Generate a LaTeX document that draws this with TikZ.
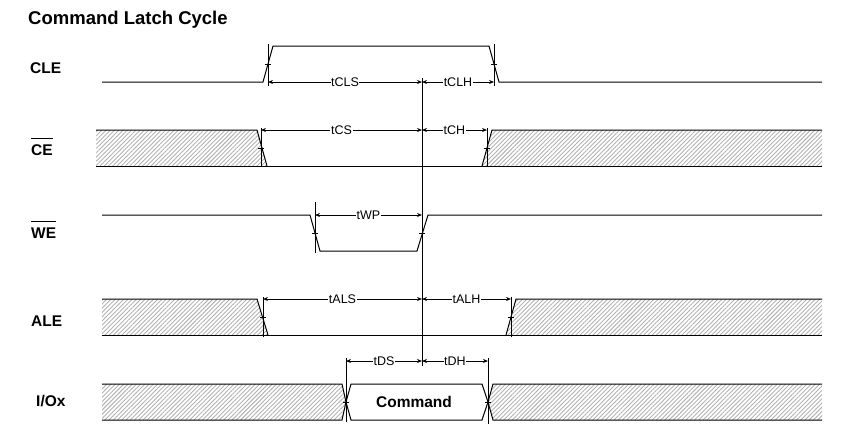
\documentclass[tikz,border=0pt]{standalone}
\usepackage{fontspec}
\setmainfont{Liberation Sans}
\usetikzlibrary{arrows.meta,patterns.meta}
\begin{document}
\begin{tikzpicture}[x=1pt,y=-1pt,
	sig/.style={line width=1pt},
	tickline/.style={line width=0.8pt},
	hatch/.style={pattern={Lines[angle=45,distance=3pt,line width=0.9pt]},pattern color=gray!60},
	dim/.style={line width=0.8pt,{Stealth[length=5pt,width=4pt]}-{Stealth[length=5pt,width=4pt]}},
	tlbl/.style={fill=white,inner sep=0.6pt,font=\fontsize{12.5}{14}\selectfont},
	sname/.style={anchor=west,inner sep=0pt,font=\bfseries\fontsize{15.5}{18}\selectfont}]
	\useasboundingbox (0,0) rectangle (849,440);
	\node[anchor=west,inner sep=0pt,font=\bfseries\fontsize{18.5}{22}\selectfont] (title) at (28,20) {Command Latch Cycle};
	% signal names
	\node[sname] (cle) at (30,68) {CLE};
	\node[sname] (ce) at (31,150) {CE};
	\node[sname] (we) at (31,233) {WE};
	\node[sname] (ale) at (31,321) {ALE};
	\node[sname] (io) at (36,401) {I/Ox};
	\draw[sig] ([yshift=6pt]ce.north west)--([yshift=6pt]ce.north east);
	\draw[sig] ([yshift=6pt]we.north west)--([yshift=6pt]we.north east);
	% CLE
	\draw[sig] (102,82)--(263,82)--(273,46)--(489,46)--(499,82)--(822,82);
	\draw[tickline] (268,44)--(268,86) (265,64)--(271,64);
	\draw[tickline] (494,44)--(494,86) (491,64)--(497,64);
	\draw[dim] (268,82)-- node[tlbl]{tCLS} (422,82);
	\draw[dim] (422,82)-- node[tlbl]{tCLH} (494,82);
	% CE
	\fill[hatch] (96,130)--(257,130)--(267,166)--(96,166)--cycle;
	\fill[hatch] (482,166)--(492,130)--(822,130)--(822,166)--cycle;
	\draw[sig] (96,130)--(257,130)--(267,166);
	\draw[sig] (482,166)--(492,130)--(822,130);
	\draw[sig] (96,166)--(822,166);
	\draw[tickline] (261,128)--(261,167) (258,148)--(264,148);
	\draw[tickline] (487,128)--(487,167) (484,148)--(490,148);
	\draw[dim] (261,130)-- node[tlbl]{tCS} (422,130);
	\draw[dim] (422,130)-- node[tlbl]{tCH} (487,130);
	% WE
	\draw[sig] (102,215)--(310,215)--(320,251)--(417,251)--(428,215)--(822,215);
	\draw[tickline] (315,202)--(315,253) (312,233)--(318,233);
	\draw[tickline] (419,233)--(425,233);
	\draw[dim] (315,215)-- node[tlbl]{tWP} (422,215);
	% ALE
	\fill[hatch] (102,299)--(257,299)--(268,335)--(102,335)--cycle;
	\fill[hatch] (506,335)--(516,299)--(822,299)--(822,335)--cycle;
	\draw[sig] (102,299)--(257,299)--(268,335);
	\draw[sig] (506,335)--(516,299)--(822,299);
	\draw[sig] (102,335)--(822,335);
	\draw[tickline] (263,297)--(263,337) (260,317)--(266,317);
	\draw[tickline] (511,297)--(511,337) (508,317)--(514,317);
	\draw[dim] (263,299)-- node[tlbl]{tALS} (422,299);
	\draw[dim] (422,299)-- node[tlbl]{tALH} (511,299);
	% I/Ox
	\fill[hatch] (102,384)--(342,384)--(346,402)--(342,420)--(102,420)--cycle;
	\fill[hatch] (488,402)--(493,384)--(822,384)--(822,420)--(493,420)--cycle;
	\draw[sig] (102,384)--(342,384)--(346,402)--(342,420)--(102,420);
	\draw[sig] (346,402)--(351,384)--(482,384)--(488,402)--(482,420)--(351,420)--cycle;
	\draw[sig] (822,384)--(493,384)--(488,402)--(493,420)--(822,420);
	\node[font=\bfseries\fontsize{15.5}{18}\selectfont] (cmd) at (414,402) {Command};
	\draw[tickline] (346,358)--(346,422) (343,402)--(349,402);
	\draw[tickline] (488,358)--(488,424) (485,402)--(491,402);
	\draw[dim] (346,361)-- node[tlbl]{tDS} (422,361);
	\draw[dim] (422,361)-- node[tlbl]{tDH} (488,361);
	% reference line
	\draw[tickline] (422,78)--(422,366);
\end{tikzpicture}
\end{document}
